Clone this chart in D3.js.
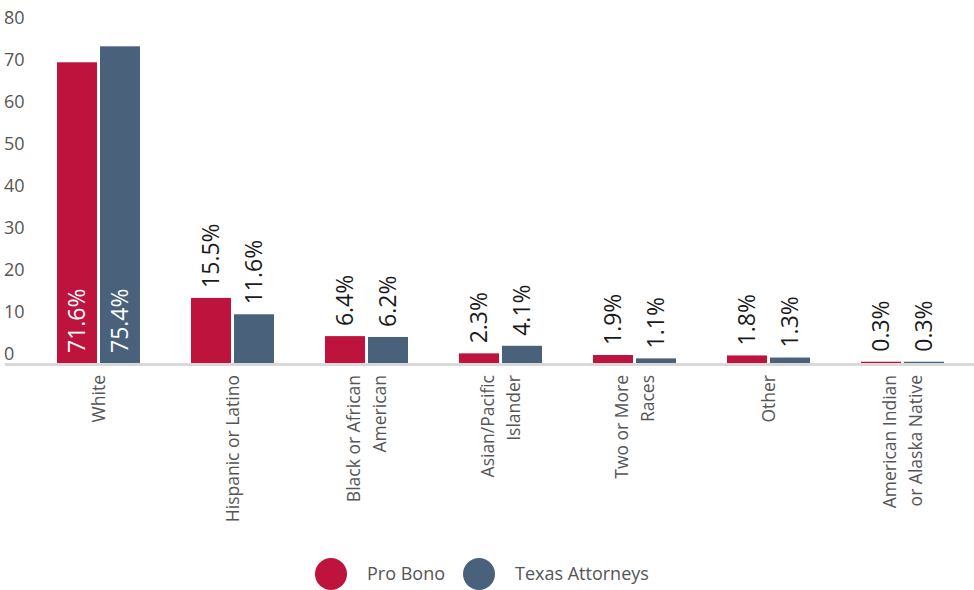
<!DOCTYPE html>
<html>
<head>
<meta charset="utf-8">
<script src="https://cdn.jsdelivr.net/npm/d3@7"></script>
<style>
  body { margin: 0; background: #fff; }
  text { font-family: "Open Sans", sans-serif; }
</style>
</head>
<body>
<div id="chart"></div>
<script>
const categories = ["White", "Hispanic or Latino", "Black or African|American", "Asian/Pacific|Islander",
    "Two or More|Races", "Other", "American Indian|or Alaska Native"];
const series = ["Pro Bono", "Texas Attorneys"];
const proBono = [71.6, 15.5, 6.4, 2.3, 1.9, 1.8, 0.3];
const texasAttorneys = [75.4, 11.6, 6.2, 4.1, 1.1, 1.3, 0.3];
const yTicks = [0, 10, 20, 30, 40, 50, 60, 70, 80];

const COLORS = { "Pro Bono": "#bd133d", "Texas Attorneys": "#4a617c" };
const width = 974, height = 590;
const baseY = 363;

const svg = d3.select("#chart")
    .append("svg")
    .attr("width", width)
    .attr("height", height);

// scales
const x0 = d3.scaleBand()
    .domain(categories)
    .range([31.5, 969.5]);

const x1 = d3.scaleBand()
    .domain(series)
    .range([x0.bandwidth() / 2 - 41.5, x0.bandwidth() / 2 + 41.5])
    .paddingInner(3 / 43);

const y = d3.scaleLinear()
    .domain([0, 80])
    .range([baseY, 27]);

// y axis labels (no line, labels sit just above tick position)
const yAxis = svg.append("g")
    .attr("class", "y axis")
    .call(d3.axisLeft(y).tickValues(yTicks).tickSize(0));
yAxis.select("path.domain").remove();
yAxis.selectAll("text")
    .attr("x", 4)
    .attr("dy", "-4px")
    .attr("text-anchor", "start")
    .attr("fill", "#555")
    .style("font-size", "18px");

// baseline
svg.append("line")
    .attr("x1", 5)
    .attr("x2", width)
    .attr("y1", y(0) + 1.5)
    .attr("y2", y(0) + 1.5)
    .attr("stroke", "#d9d9d9")
    .attr("stroke-width", 3);

const rows = categories.map((c, i) => ({
    name: c,
    values: [
        { key: "Pro Bono", value: proBono[i] },
        { key: "Texas Attorneys", value: texasAttorneys[i] }
    ]
}));

const groups = svg.selectAll("g.group")
    .data(rows)
    .enter()
    .append("g")
    .attr("class", "group")
    .attr("transform", d => `translate(${x0(d.name)},0)`);

// bars
groups.selectAll("rect")
    .data(d => d.values)
    .enter()
    .append("rect")
    .attr("x", d => x1(d.key))
    .attr("y", d => y(d.value))
    .attr("width", x1.bandwidth())
    .attr("height", d => y(0) - y(d.value))
    .attr("fill", d => COLORS[d.key]);

// value labels: inside for tall bars, above otherwise
groups.selectAll("text.value")
    .data(d => d.values)
    .enter()
    .append("text")
    .attr("class", "value")
    .attr("transform", d => {
        const cx = x1(d.key) + x1.bandwidth() / 2;
        const inside = d.value > 50;
        const ty = inside ? y(0) - 10 : y(d.value) - 10;
        return `translate(${cx},${ty}) rotate(-90)`;
    })
    .attr("dy", "0.35em")
    .attr("text-anchor", "start")
    .attr("fill", d => d.value > 50 ? "#fff" : "#1a1a1a")
    .style("font-size", "23px")
    .text(d => d.value.toFixed(1) + "%");

// category labels, rotated
const catLabels = groups.append("text")
    .attr("transform", `translate(${x0.bandwidth() / 2},375) rotate(-90)`)
    .attr("text-anchor", "end")
    .attr("fill", "#555")
    .style("font-size", "17.5px");

catLabels.each(function(d) {
    const lines = d.name.split("|");
    d3.select(this).selectAll("tspan")
        .data(lines)
        .enter()
        .append("tspan")
        .attr("x", 0)
        .attr("y", (l, i) => (i - (lines.length - 1) / 2) * 26)
        .attr("dy", "0.35em")
        .text(l => l);
});

// legend
const legendX = [331, 479];
const legend = svg.selectAll("g.legend")
    .data(series)
    .enter()
    .append("g")
    .attr("class", "legend")
    .attr("transform", (d, i) => `translate(${legendX[i]},574)`);

legend.append("circle")
    .attr("r", 16)
    .attr("fill", d => COLORS[d]);

legend.append("text")
    .attr("x", 36)
    .attr("dy", "0.35em")
    .attr("fill", "#555")
    .style("font-size", "18px")
    .text(d => d);
</script>
</body>
</html>
